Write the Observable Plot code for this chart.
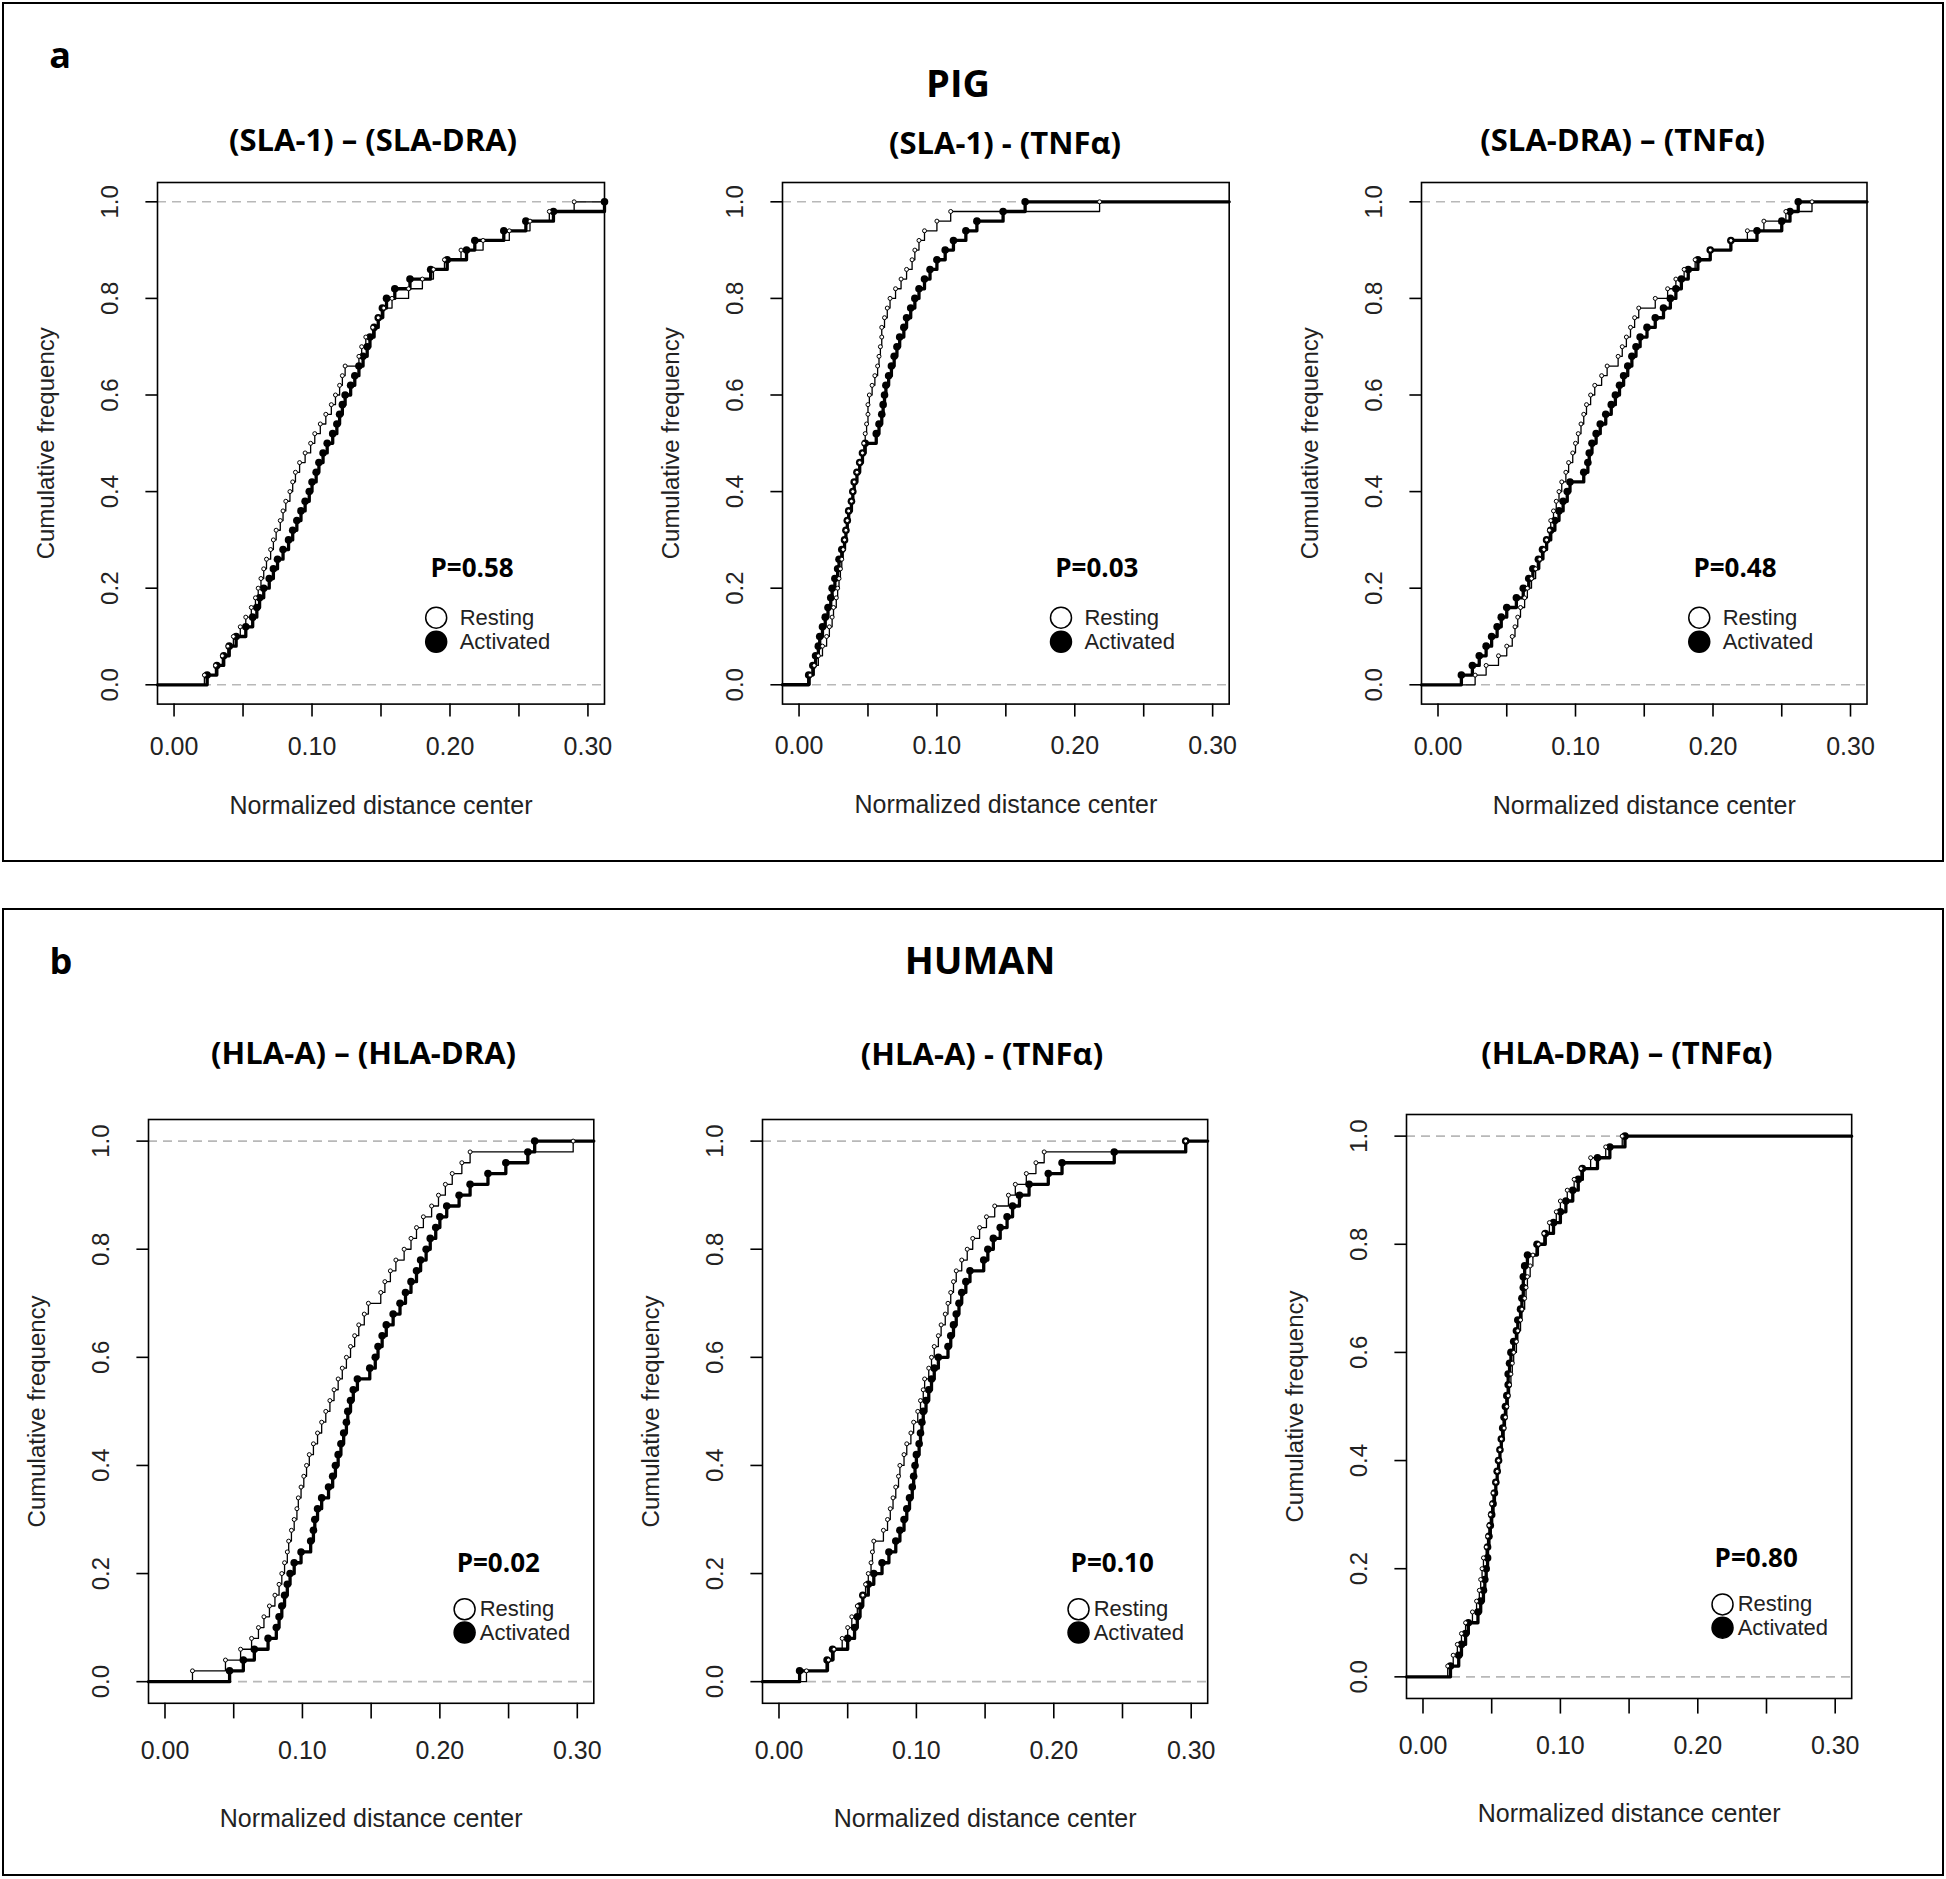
<!DOCTYPE html>
<html><head><meta charset="utf-8">
<script src="https://cdn.jsdelivr.net/npm/d3@7"></script>
<script src="https://cdn.jsdelivr.net/npm/@observablehq/plot@0.6"></script>
<style>
body{margin:0;background:#fff;}
#root{position:relative;width:1946px;height:1879px;overflow:hidden;background:#fff;}
.box{position:absolute;border:2.5px solid #000;box-sizing:border-box;}
.lbl{position:absolute;font-family:"Open Sans",sans-serif;font-weight:700;color:#000;transform:translate(-50%,-50%);white-space:nowrap;line-height:1;}
.plot{position:absolute;}
</style></head><body><div id="root"></div>
<script>
// ---------------- data ----------------
const groupLetters = ["a", "b"];
const groupNames = ["PIG", "HUMAN"];
const panelTitles = [
  "(SLA-1) \u2013 (SLA-DRA)", "(SLA-1) - (TNF\u03b1)", "(SLA-DRA) \u2013 (TNF\u03b1)",
  "(HLA-A) \u2013 (HLA-DRA)", "(HLA-A) - (TNF\u03b1)", "(HLA-DRA) \u2013 (TNF\u03b1)"
];
const pValues = ["P=0.58", "P=0.03", "P=0.48", "P=0.02", "P=0.10", "P=0.80"];
const seriesNames = ["Resting", "Activated"];
const xTitle = "Normalized distance center";
const yTitle = "Cumulative frequency";
const xTicks = [0, 0.05, 0.10, 0.15, 0.20, 0.25, 0.30];
const xLabelTicks = [0, 0.10, 0.20, 0.30];
const xTickLabels = ["0.00", "0.10", "0.20", "0.30"];
const yTicks = [0, 0.2, 0.4, 0.6, 0.8, 1.0];
const yTickLabels = ["0.0", "0.2", "0.4", "0.6", "0.8", "1.0"];

// sorted sample values (step positions)
const pigSla1SlaDraResting = [0.022,0.030,0.035,0.039,0.043,0.048,0.052,0.056,0.059,0.061,0.063,0.065,0.067,0.070,0.072,0.074,0.077,0.079,0.081,0.084,0.086,0.088,0.091,0.095,0.099,0.102,0.106,0.110,0.114,0.117,0.120,0.122,0.124,0.134,0.136,0.139,0.144,0.148,0.152,0.158,0.170,0.180,0.188,0.196,0.208,0.224,0.243,0.258,0.272,0.290];
const pigSla1SlaDraActivated = [0.024,0.031,0.036,0.040,0.045,0.052,0.057,0.060,0.062,0.065,0.069,0.072,0.075,0.079,0.083,0.086,0.089,0.092,0.095,0.098,0.100,0.103,0.105,0.108,0.111,0.115,0.118,0.120,0.122,0.124,0.128,0.131,0.134,0.137,0.140,0.142,0.145,0.148,0.151,0.154,0.160,0.171,0.186,0.198,0.212,0.218,0.239,0.255,0.275,0.312];
const pigSla1TnfResting = [0.008,0.011,0.014,0.017,0.020,0.022,0.024,0.025,0.027,0.028,0.029,0.030,0.031,0.032,0.033,0.034,0.035,0.036,0.038,0.039,0.040,0.042,0.044,0.046,0.047,0.048,0.049,0.050,0.050,0.051,0.053,0.055,0.057,0.058,0.059,0.060,0.060,0.062,0.064,0.066,0.070,0.074,0.078,0.082,0.084,0.087,0.091,0.100,0.110,0.218];
const pigSla1TnfActivated = [0.007,0.010,0.012,0.014,0.015,0.017,0.019,0.021,0.023,0.024,0.026,0.028,0.029,0.031,0.033,0.034,0.035,0.036,0.038,0.039,0.040,0.042,0.044,0.046,0.048,0.056,0.058,0.060,0.061,0.062,0.063,0.065,0.067,0.069,0.071,0.073,0.076,0.078,0.081,0.084,0.087,0.091,0.095,0.100,0.106,0.112,0.121,0.129,0.148,0.164];
const pigSlaDraTnfResting = [0.027,0.035,0.044,0.050,0.054,0.056,0.058,0.060,0.063,0.065,0.068,0.071,0.074,0.077,0.079,0.081,0.082,0.084,0.086,0.088,0.090,0.093,0.095,0.098,0.100,0.102,0.104,0.106,0.108,0.111,0.114,0.119,0.123,0.131,0.134,0.137,0.140,0.143,0.146,0.158,0.167,0.173,0.179,0.187,0.198,0.213,0.225,0.237,0.253,0.272];
const pigSlaDraTnfActivated = [0.017,0.025,0.030,0.035,0.039,0.043,0.046,0.050,0.057,0.062,0.066,0.069,0.073,0.076,0.079,0.082,0.085,0.088,0.091,0.094,0.096,0.106,0.109,0.110,0.112,0.115,0.118,0.122,0.126,0.129,0.132,0.135,0.138,0.141,0.144,0.147,0.152,0.158,0.164,0.169,0.173,0.177,0.182,0.189,0.198,0.213,0.232,0.250,0.256,0.262];
const humanHlaAHlaDraResting = [0.020,0.044,0.055,0.063,0.068,0.072,0.076,0.080,0.083,0.085,0.087,0.089,0.090,0.092,0.094,0.096,0.097,0.099,0.101,0.103,0.105,0.108,0.111,0.114,0.117,0.120,0.123,0.126,0.129,0.132,0.135,0.138,0.141,0.145,0.148,0.157,0.160,0.164,0.168,0.174,0.179,0.183,0.188,0.194,0.199,0.204,0.209,0.216,0.222,0.297];
const humanHlaAHlaDraActivated = [0.047,0.057,0.065,0.075,0.081,0.083,0.085,0.087,0.089,0.091,0.094,0.099,0.106,0.108,0.109,0.111,0.114,0.119,0.122,0.124,0.126,0.128,0.130,0.132,0.133,0.135,0.137,0.140,0.149,0.153,0.155,0.158,0.161,0.166,0.171,0.175,0.179,0.183,0.186,0.190,0.193,0.197,0.200,0.205,0.214,0.222,0.235,0.248,0.264,0.269];
const humanHlaATnfResting = [0.020,0.036,0.040,0.046,0.050,0.053,0.057,0.061,0.063,0.065,0.067,0.068,0.069,0.076,0.079,0.081,0.083,0.085,0.087,0.088,0.091,0.093,0.096,0.098,0.101,0.103,0.105,0.106,0.109,0.111,0.113,0.116,0.118,0.121,0.123,0.125,0.127,0.129,0.133,0.137,0.141,0.146,0.151,0.157,0.167,0.172,0.180,0.187,0.193,0.296];
const humanHlaATnfActivated = [0.015,0.035,0.039,0.050,0.055,0.057,0.059,0.061,0.065,0.069,0.075,0.080,0.085,0.088,0.091,0.093,0.095,0.097,0.098,0.099,0.100,0.102,0.103,0.104,0.105,0.107,0.109,0.111,0.113,0.116,0.123,0.125,0.127,0.129,0.131,0.133,0.136,0.139,0.149,0.152,0.156,0.161,0.166,0.170,0.175,0.182,0.196,0.206,0.244,0.296];
const humanHlaDraTnfResting = [0.018,0.022,0.025,0.028,0.031,0.036,0.039,0.041,0.042,0.043,0.044,0.046,0.047,0.048,0.049,0.050,0.051,0.053,0.054,0.055,0.056,0.057,0.059,0.060,0.061,0.062,0.063,0.064,0.065,0.066,0.068,0.069,0.071,0.072,0.074,0.075,0.076,0.078,0.080,0.084,0.088,0.092,0.097,0.100,0.105,0.110,0.115,0.122,0.133,0.145];
const humanHlaDraTnfActivated = [0.020,0.026,0.028,0.031,0.033,0.040,0.042,0.044,0.045,0.046,0.047,0.047,0.048,0.049,0.050,0.051,0.052,0.053,0.054,0.055,0.056,0.057,0.058,0.059,0.060,0.061,0.062,0.062,0.063,0.064,0.066,0.068,0.069,0.071,0.072,0.073,0.073,0.074,0.076,0.083,0.089,0.095,0.100,0.104,0.109,0.113,0.116,0.127,0.136,0.147];

const restingSeries = [pigSla1SlaDraResting, pigSla1TnfResting, pigSlaDraTnfResting, humanHlaAHlaDraResting, humanHlaATnfResting, humanHlaDraTnfResting];
const activatedSeries = [pigSla1SlaDraActivated, pigSla1TnfActivated, pigSlaDraTnfActivated, humanHlaAHlaDraActivated, humanHlaATnfActivated, humanHlaDraTnfActivated];

// ---------------- layout (page pixels) ----------------
const frames = [
  {left:156.7, top:182, w:447, h:521.6, tx:373, ty:139, row:0},
  {left:782, top:182, w:446.7, h:521.6, tx:1005, ty:141.5, row:0},
  {left:1420.5, top:182, w:445.5, h:521.6, tx:1622.6, ty:139, row:0},
  {left:148.4, top:1118.5, w:445.3, h:583.8, tx:363.6, ty:1051.7, row:1},
  {left:761.5, top:1118.5, w:445.2, h:583.8, tx:982, ty:1053, row:1},
  {left:1406.3, top:1114, w:445.2, h:584, tx:1626.8, ty:1051.7, row:1}
];
const rowStyle = [
  {tick:13, xLabDy:42.4, xTitleDy:101.4, pX:0.216, pY:0.24, legX:0.19, legTX:0.207, legY:[0.139,0.089]},
  {tick:15.6, xLabDy:48, xTitleDy:115.5, pX:0.2425, pY:0.219, legX:0.218, legTX:0.229, legY:[0.134,0.091]}
];
const xDomain = [-0.012, 0.312];
const yDomain = [-0.04, 1.04];

const root = document.getElementById("root");
function addDiv(cls, css, text) {
  const d = document.createElement("div");
  d.className = cls;
  Object.assign(d.style, css);
  if (text != null) d.textContent = text;
  root.appendChild(d);
  return d;
}
addDiv("box", {left:"2px", top:"2px", width:"1942px", height:"860px"});
addDiv("box", {left:"2px", top:"908px", width:"1942px", height:"968px"});
addDiv("lbl", {left:"60px", top:"55px", fontSize:"36px"}, groupLetters[0]);
addDiv("lbl", {left:"61px", top:"961px", fontSize:"36px"}, groupLetters[1]);
addDiv("lbl", {left:"958px", top:"82px", fontSize:"38px"}, groupNames[0]);
addDiv("lbl", {left:"980px", top:"959px", fontSize:"38px"}, groupNames[1]);

const sans = "'Liberation Sans', Arial, sans-serif";
const txt = "#222";

frames.forEach((F, i) => {
  addDiv("lbl", {left: F.tx + "px", top: F.ty + "px", fontSize: "31px"}, panelTitles[i]);
  const R = rowStyle[F.row];
  const mL = 130, mR = 14, mT = 14, mB = R.xTitleDy + 30;
  const W = mL + F.w + mR, H = mT + F.h + mB;
  const pts = arr => arr.map((x, k) => ({x, F: (k + 1) / arr.length}));
  const steps = arr => [{x: xDomain[0], F: 0}, ...pts(arr), {x: xDomain[1], F: 1}];
  const rest = restingSeries[i], act = activatedSeries[i];
  const legend = seriesNames.map((s, k) => ({name: s, y: R.legY[k], fill: k === 0 ? "#fff" : "#000"}));
  const chart = Plot.plot({
    width: W, height: H,
    marginLeft: mL, marginRight: mR, marginTop: mT, marginBottom: mB,
    x: {domain: xDomain, axis: null},
    y: {domain: yDomain, axis: null},
    style: {background: "transparent", fontFamily: sans, overflow: "visible"},
    marks: [
      Plot.ruleY([0, 1], {stroke: "#b8b8b8", strokeDasharray: "9,6", strokeWidth: 1.6}),
      Plot.line(steps(act), {x: "x", y: "F", curve: "step-after", stroke: "#000", strokeWidth: 3.3}),
      Plot.dot(pts(act), {x: "x", y: "F", r: 3.8, fill: "#000", stroke: "none"}),
      Plot.line(steps(rest), {x: "x", y: "F", curve: "step-after", stroke: "#000", strokeWidth: 1.3}),
      Plot.dot(pts(rest), {x: "x", y: "F", r: 2, fill: "#fff", stroke: "#000", strokeWidth: 1}),
      Plot.frame({stroke: "#000", strokeWidth: 1.6}),
      Plot.axisX({ticks: xTicks, tickSize: R.tick, tickFormat: () => "", label: null, stroke: "#000", strokeWidth: 1.6}),
      Plot.text(xLabelTicks, {x: d => d, text: (d, k) => xTickLabels[k], frameAnchor: "bottom", lineAnchor: "middle", textAnchor: "middle", dy: R.xLabDy, fontSize: 25, fill: txt}),
      Plot.axisY({ticks: yTicks, tickSize: 11.6, tickFormat: () => "", label: null, stroke: "#000", strokeWidth: 1.6}),
      Plot.text(yTicks, {y: d => d, text: (d, k) => yTickLabels[k], frameAnchor: "left", textAnchor: "middle", lineAnchor: "middle", dx: -47, rotate: -90, fontSize: 24, fill: txt}),
      Plot.text([xTitle], {text: d => d, frameAnchor: "bottom", lineAnchor: "middle", textAnchor: "middle", dy: R.xTitleDy, fontSize: 25, fill: txt}),
      Plot.text([yTitle], {text: d => d, frameAnchor: "left", textAnchor: "middle", lineAnchor: "middle", dx: -111, rotate: -90, fontSize: 24, fill: txt}),
      Plot.text([pValues[i]], {x: R.pX, y: R.pY, text: d => d, fontFamily: "'Open Sans', sans-serif", fontWeight: 700, fontSize: 26, fill: "#000"}),
      Plot.dot(legend, {x: R.legX, y: "y", r: 10.5, fill: "fill", stroke: "#000", strokeWidth: 1.5}),
      Plot.text(legend, {x: R.legTX, y: "y", text: "name", textAnchor: "start", fontSize: 22, fill: txt})
    ]
  });
  const wrap = addDiv("plot", {left: (F.left - mL) + "px", top: (F.top - mT) + "px"});
  wrap.appendChild(chart);
});
</script>
</body></html>
